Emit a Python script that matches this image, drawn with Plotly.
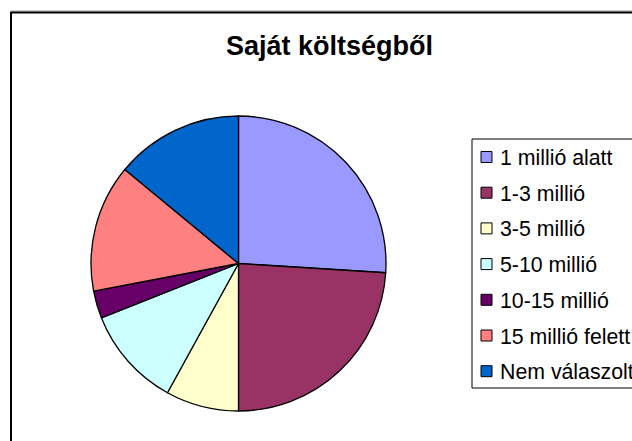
import plotly.graph_objects as go

# ---- data ----
labels = ["1 millió alatt", "1-3 millió", "3-5 millió", "5-10 millió",
          "10-15 millió", "15 millió felett", "Nem válaszolt"]
values = [26, 24, 8, 11, 3, 14, 14]
title_text = "Saját költségből"

# ---- style ----
colors = ["#9999FF", "#993366", "#FFFFCC", "#CCFFFF", "#660066", "#FF8080", "#0066CC"]
W, H = 632, 441
FONT = "Liberation Sans, Arial, sans-serif"

def px(x):
    return x / W

def py(y):
    return 1 - y / H

cx, cy, r = 238.5, 263.5, 147.5

fig = go.Figure()
fig.add_trace(go.Pie(
    labels=labels, values=values, sort=False, direction="clockwise", rotation=0,
    marker=dict(colors=colors, line=dict(color="black", width=1.3)),
    textinfo="none", hoverinfo="label+value+percent", showlegend=False,
    domain=dict(x=[px(cx - r), px(cx + r)], y=[py(cy + r), py(cy - r)]),
))

shapes = [
    # outer chart border (cropped at right/bottom)
    dict(type="line", xref="paper", yref="paper", x0=px(11), y0=py(11), x1=px(720), y1=py(11),
         line=dict(color="#9a9a9a", width=1)),
    dict(type="rect", xref="paper", yref="paper", x0=px(11), y0=py(12.5), x1=px(720), y1=py(520),
         line=dict(color="black", width=2), fillcolor="rgba(0,0,0,0)"),
    # legend box (cropped at right)
    dict(type="rect", xref="paper", yref="paper", x0=px(472), y0=py(139), x1=px(720), y1=py(388),
         line=dict(color="black", width=1), fillcolor="white"),
]
annotations = []
row0, step = 157, 35.7
for i, (lab, col) in enumerate(zip(labels, colors)):
    yc = row0 + i * step
    shapes.append(dict(type="rect", xref="paper", yref="paper",
                       x0=px(481), x1=px(492), y0=py(yc - 5.5), y1=py(yc + 5.5),
                       line=dict(color="black", width=1), fillcolor=col))
    annotations.append(dict(text=lab, xref="paper", yref="paper", x=px(498), y=py(yc + 1),
                            xanchor="left", yanchor="middle", showarrow=False,
                            font=dict(family=FONT, size=21.3, color="black")))

annotations.append(dict(text="<b>" + title_text + "</b>", xref="paper", yref="paper",
                        x=px(329), y=py(46), xanchor="center", yanchor="middle", showarrow=False,
                        font=dict(family=FONT, size=27, color="black")))

fig.update_layout(
    width=W, height=H, autosize=False,
    margin=dict(l=0, r=0, t=0, b=0),
    paper_bgcolor="white", plot_bgcolor="white",
    shapes=shapes, annotations=annotations,
    font=dict(family=FONT),
)

fig.write_html("out.html", config={"displayModeBar": False},
               post_script="document.body.style.margin='0';document.body.style.overflow='hidden';")
